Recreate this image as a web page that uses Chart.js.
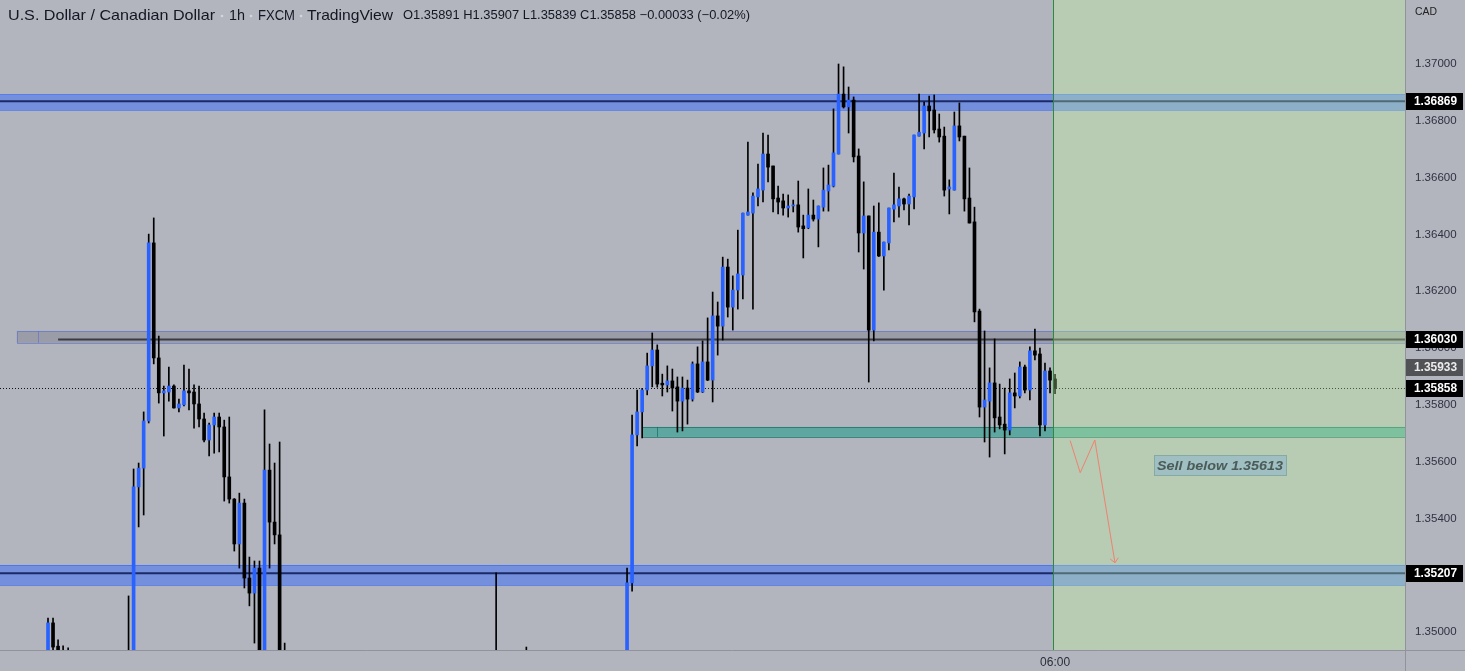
<!DOCTYPE html>
<html><head><meta charset="utf-8">
<script src="https://cdn.jsdelivr.net/npm/chart.js@4.4.1/dist/chart.umd.min.js"></script>
<style>html,body{margin:0;padding:0;background:#b2b5be;overflow:hidden}#wrap{width:1465px;height:671px;position:relative}</style>
</head><body><div id="wrap"><canvas id="c" width="1465" height="671"></canvas></div>
<script>
// ---- candle slots (hourly bar index) and OHLC values ----
const slots = [0,1,2,3,4,
 16,17,18,19,20,21,22,23,24,25,26,27,28,29,30,31,32,33,34,35,36,37,38,39,40,41,42,43,44,45,46,47,
 89,95,
 115,116,117,118,119,120,121,122,123,124,125,126,127,128,129,130,131,132,133,134,135,136,137,138,139,140,
 141,142,143,144,145,146,147,148,149,150,151,152,153,154,155,156,157,158,159,160,161,162,163,164,165,166,
 167,168,169,170,171,172,173,174,175,176,177,178,179,180,181,182,183,184,185,186,187,188,189,190,191,192,
 193,194,195,196,197,198,199,200];
const openP = [1.34900,1.35032,1.34950,1.34935,1.34920,
 1.34900,1.34880,1.35511,1.35577,1.35743,1.36370,1.35965,1.35842,1.35845,1.35866,
 1.35789,1.35800,1.35849,1.35845,1.35803,1.35750,1.35676,1.35729,1.35757,1.35722,
 1.35546,1.35468,1.35310,1.35454,1.35190,1.35137,1.35225,1.34900,1.35570,1.35387,
 1.35342,1.34900,
 1.34900,1.34900,
 1.34880,1.35173,1.35694,1.35775,1.35852,1.35937,1.35993,1.35876,1.35870,1.35884,
 1.35863,1.35813,1.35859,1.35820,1.35944,1.35845,1.35951,1.35887,1.36113,1.36077,
 1.36285,1.36144,1.36204,1.36257,1.36468,1.36475,1.36532,1.36556,1.36683,1.36641,
 1.36528,1.36518,1.36493,1.36500,1.36504,1.36430,1.36423,1.36468,1.36454,1.36496,
 1.36553,1.36570,1.36683,1.36894,1.36849,1.36873,1.36676,1.36405,1.36465,1.36063,
 1.36408,1.36324,1.36370,1.36489,1.36500,1.36525,1.36507,1.36532,1.36746,1.36757,
 1.36852,1.36838,1.36771,1.36746,1.36560,1.36556,1.36782,1.36746,1.36528,1.36444,
 1.36130,1.35792,1.35813,1.35877,1.35757,1.35732,1.35711,1.35842,1.35831,1.35933,
 1.35852,1.35990,1.35979,1.35729,1.35919,1.35891];
const highP = [1.35049,1.35049,1.34972,1.34951,1.34944,
 1.35127,1.35574,1.35595,1.35775,1.36401,1.36458,1.36042,1.35866,1.35933,1.35870,
 1.35820,1.35940,1.35926,1.35870,1.35866,1.35771,1.35736,1.35771,1.35771,1.35746,
 1.35757,1.35470,1.35489,1.35468,1.35264,1.35250,1.35250,1.35782,1.35662,1.35595,
 1.35669,1.34961,
 1.35208,1.34947,
 1.35225,1.35764,1.35852,1.35858,1.35982,1.36053,1.36011,1.35908,1.35937,1.35926,
 1.35898,1.35898,1.35887,1.35951,1.36004,1.36025,1.36106,1.36197,1.36162,1.36320,
 1.36313,1.36254,1.36415,1.36475,1.36725,1.36546,1.36648,1.36757,1.36750,1.36641,
 1.36570,1.36542,1.36539,1.36521,1.36588,1.36468,1.36560,1.36521,1.36500,1.36634,
 1.36644,1.36842,1.37000,1.36990,1.36919,1.36884,1.36701,1.36585,1.36465,1.36500,
 1.36511,1.36373,1.36493,1.36616,1.36567,1.36528,1.36542,1.36750,1.36894,1.36866,
 1.36887,1.36891,1.36824,1.36778,1.36592,1.36831,1.36863,1.36746,1.36634,1.36496,
 1.36137,1.36060,1.35930,1.36032,1.35873,1.35859,1.35891,1.35912,1.35951,1.35940,
 1.36004,1.36067,1.36000,1.35947,1.35930,1.35907];
const lowP = [1.34880,1.34900,1.34900,1.34900,1.34880,
 1.34850,1.34870,1.35370,1.35412,1.35736,1.35944,1.35806,1.35690,1.35813,1.35788,
 1.35775,1.35796,1.35782,1.35718,1.35722,1.35669,1.35620,1.35630,1.35634,1.35461,
 1.35454,1.35285,1.35225,1.35155,1.35092,1.34961,1.34850,1.34850,1.35225,1.35310,
 1.34850,1.34850,
 1.34800,1.34850,
 1.34850,1.35144,1.35655,1.35683,1.35835,1.35863,1.35862,1.35831,1.35845,1.35778,
 1.35704,1.35708,1.35732,1.35813,1.35843,1.35843,1.35885,1.35810,1.35975,1.36028,
 1.36109,1.36063,1.36137,1.36173,1.36468,1.36137,1.36500,1.36514,1.36585,1.36479,
 1.36472,1.36468,1.36461,1.36479,1.36408,1.36317,1.36420,1.36447,1.36356,1.36482,
 1.36482,1.36567,1.36683,1.36845,1.36757,1.36655,1.36338,1.36278,1.35880,1.36025,
 1.36322,1.36204,1.36345,1.36444,1.36461,1.36486,1.36433,1.36490,1.36746,1.36701,
 1.36743,1.36757,1.36725,1.36535,1.36472,1.36556,1.36729,1.36482,1.36440,1.36092,
 1.35757,1.35669,1.35616,1.35704,1.35715,1.35627,1.35694,1.35789,1.35824,1.35842,
 1.35817,1.35958,1.35690,1.35708,1.35842,1.35839];
const closeP = [1.35032,1.34947,1.34935,1.34920,1.34900,
 1.34880,1.35511,1.35577,1.35743,1.36370,1.35965,1.35842,1.35849,1.35866,1.35789,
 1.35803,1.35849,1.35842,1.35803,1.35750,1.35676,1.35729,1.35757,1.35722,1.35546,
 1.35468,1.35310,1.35454,1.35190,1.35137,1.35225,1.34900,1.35570,1.35387,1.35342,
 1.34900,1.34880,
 1.34880,1.34880,
 1.35173,1.35694,1.35775,1.35852,1.35937,1.35993,1.35873,1.35870,1.35884,1.35859,
 1.35813,1.35859,1.35820,1.35944,1.35845,1.35951,1.35887,1.36113,1.36077,1.36285,
 1.36144,1.36204,1.36261,1.36475,1.36479,1.36535,1.36560,1.36683,1.36637,1.36525,
 1.36514,1.36493,1.36500,1.36504,1.36426,1.36420,1.36468,1.36454,1.36500,1.36556,
 1.36574,1.36687,1.36894,1.36849,1.36873,1.36673,1.36405,1.36465,1.36063,1.36408,
 1.36324,1.36373,1.36493,1.36504,1.36525,1.36507,1.36535,1.36750,1.36760,1.36852,
 1.36835,1.36768,1.36743,1.36556,1.36567,1.36782,1.36743,1.36525,1.36440,1.36127,
 1.35792,1.35817,1.35877,1.35754,1.35729,1.35711,1.35842,1.35831,1.35933,1.35852,
 1.35990,1.35975,1.35729,1.35919,1.35887,1.35858];

// ---- axis ticks ----
const yTickValues = [1.35000,1.35200,1.35400,1.35600,1.35800,1.36000,1.36200,1.36400,1.36600,1.36800,1.37000];
const timeTickSlots = [200];
const timeTickLabels = ['06:00'];

// ---- drawn levels / zones ----
const resistanceZone = {top:1.36893, bottom:1.36838, level:1.36869};
const pivotZone = {top:1.36060, bottom:1.36018, level:1.36030};
const entryZone = {top:1.35722, bottom:1.35687};
const targetZone = {top:1.35236, bottom:1.35165, level:1.35207};
const lastPrice = 1.35858;
const highlightPrice = 1.35933;
const sellNote = 'Sell below 1.35613';
const pathSlots = [203.0, 205.0, 207.9, 211.9];
const pathPrices = [1.35674, 1.35561, 1.35676, 1.35244];
const headerTitle = ['U.S. Dollar / Canadian Dollar', '1h', 'FXCM', 'TradingView'];
const headerQuote = 'O1.35891 H1.35907 L1.35839 C1.35858 \u22120.00033 (\u22120.02%)';

const UP = '#2962ff', DOWN = '#000000', WICK = '#000000';
const colors = slots.map((s,i)=> closeP[i] >= openP[i] ? UP : DOWN);
const wickData = slots.map((s,i)=>({x:s, y:[lowP[i], highP[i]]}));
const bodyData = slots.map((s,i)=>({x:s, y:[openP[i], closeP[i]]}));

const FONT = "'Liberation Sans', Arial, sans-serif";

function fitText(ctx, text, x, y, w, font, color){
  ctx.save();
  ctx.font = font; ctx.fillStyle = color; ctx.textBaseline = 'middle'; ctx.textAlign = 'left';
  const m = ctx.measureText(text).width;
  ctx.translate(x, y); ctx.scale(w/m, 1); ctx.fillText(text, 0, 0);
  ctx.restore();
}

const drawPlugin = {
  id: 'tvDraw',
  beforeDraw(chart){
    const ctx = chart.ctx;
    ctx.save(); ctx.fillStyle = '#b2b5be'; ctx.fillRect(0,0,chart.width,chart.height); ctx.restore();
  },
  beforeDatasetsDraw(chart){
    const {ctx, chartArea:a, scales:{x,y}} = chart;
    ctx.save();
    ctx.beginPath(); ctx.rect(a.left, a.top, a.right-a.left, a.bottom-a.top); ctx.clip();
    [resistanceZone, targetZone].forEach(z=>{
      const y1 = y.getPixelForValue(z.top), y2 = y.getPixelForValue(z.bottom);
      ctx.fillStyle = 'rgba(41,98,255,0.45)';
      ctx.fillRect(a.left, y1, a.right-a.left, y2-y1);
      ctx.strokeStyle = 'rgba(41,98,255,0.55)'; ctx.lineWidth = 1;
      ctx.strokeRect(a.left-1, Math.round(y1)+0.5, a.right-a.left+2, Math.round(y2-y1));
      ctx.strokeStyle = '#1b2a66'; ctx.lineWidth = 2;
      const ly = y.getPixelForValue(z.level);
      ctx.beginPath(); ctx.moveTo(a.left, ly); ctx.lineTo(a.right, ly); ctx.stroke();
    });
    {
      const x0 = x.getPixelForValue(-6.2), xd = x.getPixelForValue(-2.0), xl = x.getPixelForValue(2.0);
      const y1 = y.getPixelForValue(pivotZone.top), y2 = y.getPixelForValue(pivotZone.bottom);
      ctx.fillStyle = 'rgba(110,112,125,0.35)';
      ctx.fillRect(x0, y1, a.right-x0, y2-y1);
      ctx.strokeStyle = 'rgba(90,110,210,0.6)'; ctx.lineWidth = 1;
      ctx.strokeRect(Math.round(x0)+0.5, Math.round(y1)+0.5, a.right-x0+2, Math.round(y2-y1));
      ctx.beginPath(); ctx.moveTo(Math.round(xd)+0.5, y1); ctx.lineTo(Math.round(xd)+0.5, y2); ctx.stroke();
      ctx.strokeStyle = '#3a3c44'; ctx.lineWidth = 2;
      const ly = y.getPixelForValue(pivotZone.level);
      ctx.beginPath(); ctx.moveTo(xl, ly); ctx.lineTo(a.right, ly); ctx.stroke();
    }
    {
      const x0 = x.getPixelForValue(118.0), xd = x.getPixelForValue(121.0);
      const y1 = y.getPixelForValue(entryZone.top), y2 = y.getPixelForValue(entryZone.bottom);
      ctx.fillStyle = 'rgba(8,153,129,0.5)';
      ctx.fillRect(x0, y1, a.right-x0, y2-y1);
      ctx.strokeStyle = 'rgba(20,110,95,0.7)'; ctx.lineWidth = 1;
      ctx.strokeRect(Math.round(x0)+0.5, Math.round(y1)+0.5, a.right-x0+2, Math.round(y2-y1));
      ctx.beginPath(); ctx.moveTo(Math.round(xd)+0.5, y1); ctx.lineTo(Math.round(xd)+0.5, y2); ctx.stroke();
    }
    {
      const ly = Math.round(y.getPixelForValue(lastPrice)) + 0.5;
      ctx.strokeStyle = '#111'; ctx.lineWidth = 1; ctx.setLineDash([1,2]);
      ctx.beginPath(); ctx.moveTo(a.left, ly); ctx.lineTo(a.right, ly); ctx.stroke();
      ctx.setLineDash([]);
    }
    ctx.restore();
  },
  afterDatasetsDraw(chart){
    const {ctx, chartArea:a, scales:{x,y}} = chart;
    ctx.save();
    ctx.beginPath(); ctx.rect(a.left, a.top, a.right-a.left, a.bottom-a.top); ctx.clip();
    const xn = Math.round(x.getPixelForValue(199.66));
    ctx.fillStyle = 'rgba(200,255,157,0.30)';
    ctx.fillRect(xn, a.top, a.right-xn, a.bottom-a.top);
    ctx.strokeStyle = '#2e8a38'; ctx.lineWidth = 1;
    ctx.beginPath(); ctx.moveTo(xn+0.5, a.top); ctx.lineTo(xn+0.5, a.bottom); ctx.stroke();
    ctx.strokeStyle = '#ef8270'; ctx.lineWidth = 1;
    ctx.beginPath();
    pathSlots.forEach((s,i)=>{ const px = x.getPixelForValue(s), py = y.getPixelForValue(pathPrices[i]); i? ctx.lineTo(px,py) : ctx.moveTo(px,py); });
    ctx.stroke();
    const n = pathSlots.length;
    const tx = x.getPixelForValue(pathSlots[n-1]), ty = y.getPixelForValue(pathPrices[n-1]);
    const fx = x.getPixelForValue(pathSlots[n-2]), fy = y.getPixelForValue(pathPrices[n-2]);
    const ang = Math.atan2(ty-fy, tx-fx);
    ctx.beginPath();
    ctx.moveTo(tx - 6*Math.cos(ang-0.75), ty - 6*Math.sin(ang-0.75));
    ctx.lineTo(tx, ty);
    ctx.lineTo(tx - 6*Math.cos(ang+0.75), ty - 6*Math.sin(ang+0.75));
    ctx.stroke();
    const bx1 = Math.round(x.getPixelForValue(219.7)), bx2 = Math.round(x.getPixelForValue(245.8));
    const by1 = Math.round(y.getPixelForValue(1.35622)), by2 = Math.round(y.getPixelForValue(1.35552));
    ctx.fillStyle = '#9fbfc3';
    ctx.fillRect(bx1, by1, bx2-bx1, by2-by1);
    ctx.strokeStyle = '#84aaa2'; ctx.lineWidth = 1;
    ctx.strokeRect(bx1+0.5, by1+0.5, bx2-bx1, by2-by1);
    fitText(ctx, sellNote, bx1+3, (by1+by2)/2+1, bx2-bx1-6, `italic bold 13px ${FONT}`, '#4b5b57');
    ctx.restore();
  },
  afterDraw(chart){
    const {ctx, chartArea:a, scales:{y}} = chart;
    ctx.save();
    ctx.strokeStyle = '#90939c'; ctx.lineWidth = 1;
    ctx.beginPath(); ctx.moveTo(a.right+0.5, 0); ctx.lineTo(a.right+0.5, chart.height); ctx.stroke();
    ctx.beginPath(); ctx.moveTo(0, a.bottom+0.5); ctx.lineTo(chart.width, a.bottom+0.5); ctx.stroke();
    const tags = [
      [resistanceZone.level, '#000000', '#ffffff'],
      [pivotZone.level, '#000000', '#ffffff'],
      [highlightPrice, '#515256', '#ececec'],
      [lastPrice, '#000000', '#ffffff'],
      [targetZone.level, '#000000', '#ffffff']
    ];
    tags.forEach(([v,bg,fg])=>{
      const cy = Math.round(y.getPixelForValue(v));
      ctx.fillStyle = bg; ctx.fillRect(a.right+1, cy-8, 57, 17);
      fitText(ctx, v.toFixed(5), a.right+9, cy+1, 43, `bold 12px ${FONT}`, fg);
    });
    fitText(ctx, 'CAD', a.right+10, 12, 22, `11px ${FONT}`, '#222');
    const hf = `14.5px ${FONT}`;
    fitText(ctx, headerTitle[0], 8, 16, 207, hf, '#131722');
    fitText(ctx, headerTitle[1], 229, 16, 16, hf, '#131722');
    fitText(ctx, headerTitle[2], 258, 16, 37, hf, '#131722');
    fitText(ctx, headerTitle[3], 307, 16, 86, hf, '#131722');
    ctx.fillStyle = '#d4d6dc';
    [222, 251, 301].forEach(dx=>{ ctx.beginPath(); ctx.arc(dx, 16, 1.3, 0, Math.PI*2); ctx.fill(); });
    fitText(ctx, headerQuote, 403, 16, 347, `12.5px ${FONT}`, '#131722');
    ctx.restore();
  }
};

new Chart(document.getElementById('c'), {
  type: 'bar',
  data: {
    datasets: [
      {label:'wick', data: wickData, backgroundColor: WICK, barThickness: 1, grouped:false, borderWidth:0, clip: 0, order: 2},
      {label:'body', data: bodyData, backgroundColor: colors, barThickness: 3, minBarLength: 1, grouped:false, borderWidth:0, clip: 0, order: 1}
    ]
  },
  options: {
    responsive: false, animation: false, devicePixelRatio: 1,
    layout: {padding: 0, autoPadding: false},
    plugins: {legend: {display:false}, tooltip: {enabled:false}, title:{display:false}},
    scales: {
      x: {
        type: 'linear', position: 'bottom', min: -9.533, max: 269.5, offset: false,
        grid: {display:false, drawTicks:false}, border: {display:false},
        afterBuildTicks: ax => { ax.ticks = timeTickSlots.map(v=>({value:v})); },
        afterFit: ax => { ax.height = 21; ax.paddingLeft = 0; ax.paddingRight = 0; },
        ticks: { padding: 5, autoSkip:false, maxRotation:0, color:'#2a2e39', font:{family:FONT, size:12},
          callback: v => timeTickLabels[timeTickSlots.indexOf(v)] }
      },
      y: {
        type: 'linear', position: 'right', min: 1.3493662, max: 1.3722535,
        grid: {display:false, drawTicks:false}, border: {display:false},
        afterBuildTicks: ax => { ax.ticks = yTickValues.map(v=>({value:v})); },
        afterFit: ax => { ax.width = 60; ax.paddingTop = 0; ax.paddingBottom = 0; },
        ticks: { padding: 10, color:'#2f3240', font:{family:FONT, size:11.5},
          callback: v => Number(v).toFixed(5) }
      }
    }
  },
  plugins: [drawPlugin]
});
</script></body></html>
